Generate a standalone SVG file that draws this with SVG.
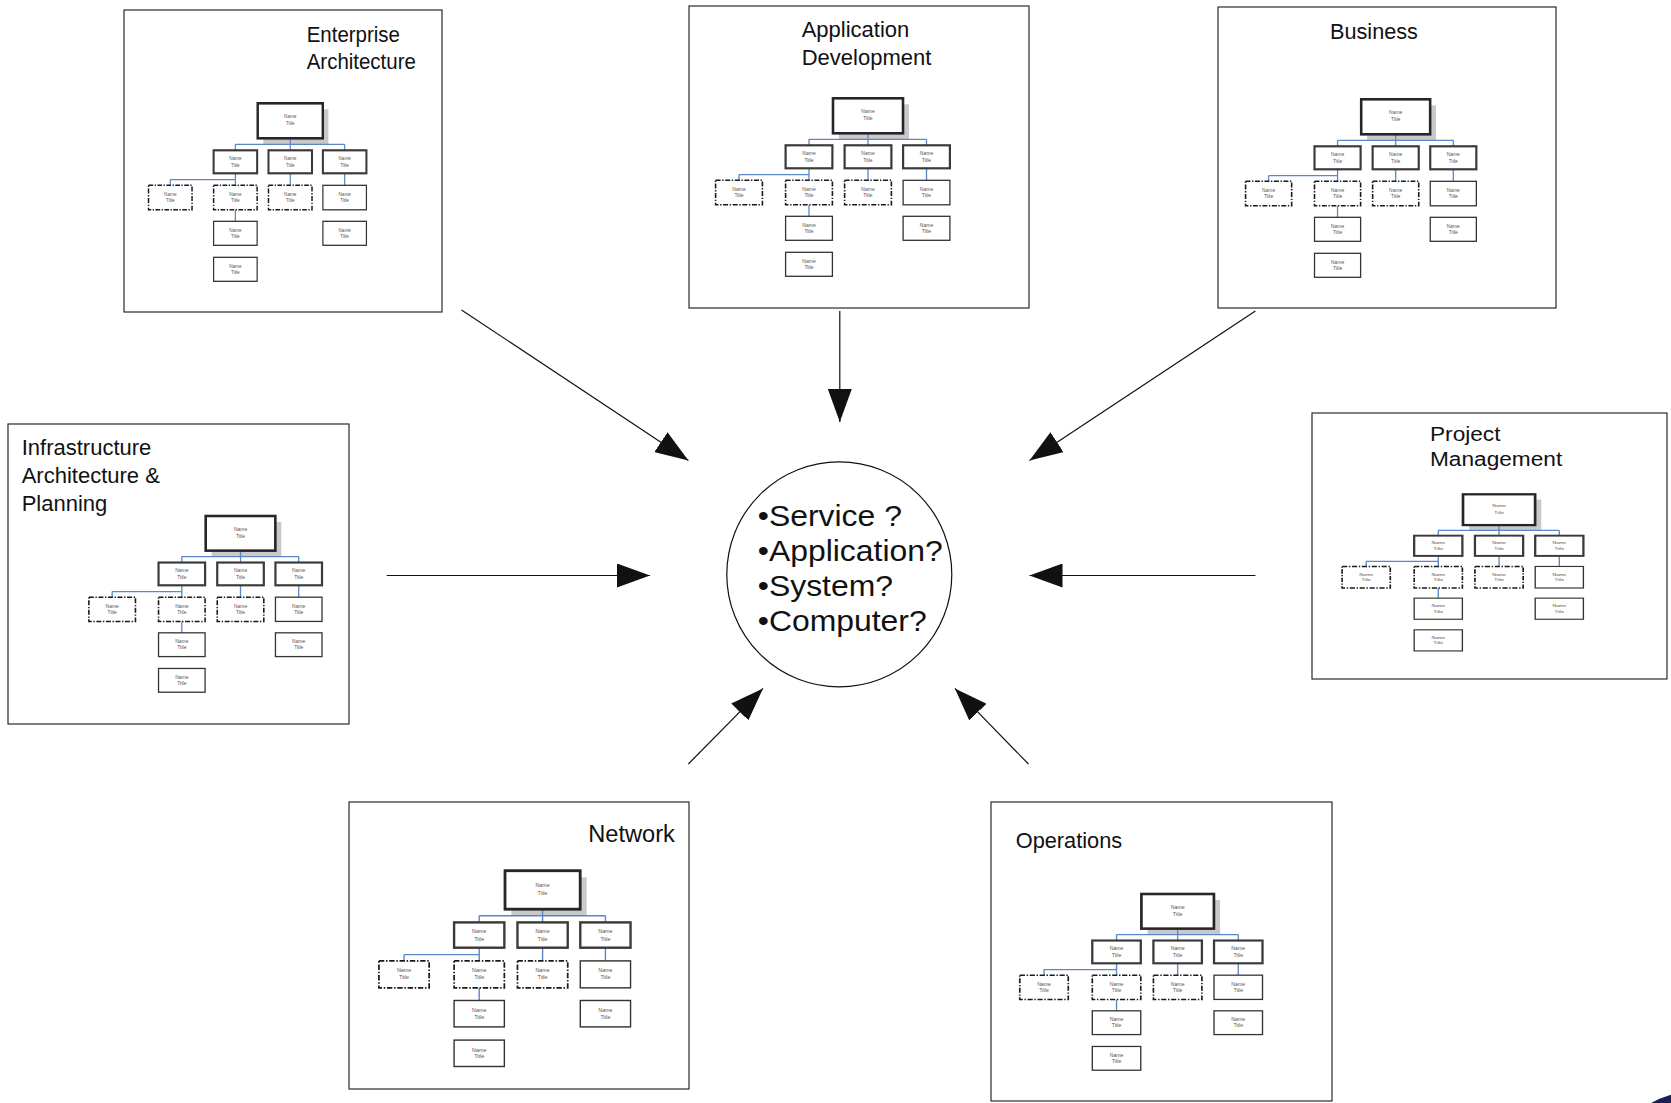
<svg xmlns="http://www.w3.org/2000/svg" xmlns:xlink="http://www.w3.org/1999/xlink" width="1671" height="1103" viewBox="0 0 1671 1103">
  <style>
    .frame { fill: #ffffff; stroke: #2a2a2a; stroke-width: 1.2; }
    .title { font-family: "Liberation Sans", Arial, sans-serif; font-size: 22px; fill: #111111; }
    .hub { font-family: "Liberation Sans", Arial, sans-serif; font-size: 29px; fill: #111111; }
    .topbox { fill: #ffffff; stroke: #262626; stroke-width: 2.6; }
    .shadow { fill: #c9c9c9; stroke: none; }
    .midbox { fill: #ffffff; stroke: #3a3a3a; stroke-width: 2.2; }
    .dashbox { fill: #ffffff; stroke: #1a1a1a; stroke-width: 1.6; stroke-dasharray: 5 1.6 1.4 1.6; }
    .leaf { fill: #ffffff; stroke: #333333; stroke-width: 1.3; }
    .link { fill: none; stroke: #5b86c8; stroke-width: 1.3; }
    .lbl { font-family: "Liberation Sans", Arial, sans-serif; font-size: 5px; fill: #555555; text-anchor: middle; }
    .arrow { fill: none; stroke: #111111; stroke-width: 1.2; marker-end: url(#head); }
  </style>
  <defs>
    <marker id="head" markerUnits="userSpaceOnUse" markerWidth="34" markerHeight="24" refX="33" refY="12" orient="auto">
      <path d="M0,0 L33,12 L0,24 Z" fill="#111111"/>
    </marker>
    <!-- small org chart; origin = top-left corner of the top box -->
    <g id="orgchart">
      <rect class="shadow" x="6" y="6" width="70" height="35"/>
      <!-- blue reporting lines -->
      <path class="link" d="M35,35 V41 M-24,41 H93.5 M-24,41 V47 M35,41 V47 M93.5,41 V47
                            M-24,70 V82 M-94,76.3 H-24 M-94,76.3 V82 M35,70 V82 M93.5,70 V82
                            M-24,106.5 V118"/>
      <rect class="topbox" x="0" y="0" width="70" height="35"/>
      <text class="lbl" x="35" y="15">Name</text><text class="lbl" x="35" y="22">Title</text>
      <!-- second level -->
      <rect class="midbox" x="-47.4" y="47" width="46.8" height="23"/>
      <rect class="midbox" x="11.6" y="47" width="46.8" height="23"/>
      <rect class="midbox" x="70.1" y="47" width="46.8" height="23"/>
      <text class="lbl" x="-24" y="57">Name</text><text class="lbl" x="-24" y="63.5">Title</text>
      <text class="lbl" x="35" y="57">Name</text><text class="lbl" x="35" y="63.5">Title</text>
      <text class="lbl" x="93.5" y="57">Name</text><text class="lbl" x="93.5" y="63.5">Title</text>
      <!-- third level -->
      <rect class="dashbox" x="-117.4" y="82" width="46.8" height="24.5"/>
      <rect class="dashbox" x="-47.4" y="82" width="46.8" height="24.5"/>
      <rect class="dashbox" x="11.6" y="82" width="46.8" height="24.5"/>
      <rect class="leaf" x="70.1" y="82" width="46.8" height="24.5"/>
      <text class="lbl" x="-94" y="92.5">Name</text><text class="lbl" x="-94" y="98.5">Title</text>
      <text class="lbl" x="-24" y="92.5">Name</text><text class="lbl" x="-24" y="98.5">Title</text>
      <text class="lbl" x="35" y="92.5">Name</text><text class="lbl" x="35" y="98.5">Title</text>
      <text class="lbl" x="93.5" y="92.5">Name</text><text class="lbl" x="93.5" y="98.5">Title</text>
      <!-- fourth level -->
      <rect class="leaf" x="-47.4" y="118" width="46.8" height="24"/>
      <rect class="leaf" x="70.1" y="118" width="46.8" height="24"/>
      <text class="lbl" x="-24" y="128.5">Name</text><text class="lbl" x="-24" y="134.5">Title</text>
      <text class="lbl" x="93.5" y="128.5">Name</text><text class="lbl" x="93.5" y="134.5">Title</text>
      <!-- fifth level -->
      <rect class="leaf" x="-47.4" y="154" width="46.8" height="24"/>
      <text class="lbl" x="-24" y="164.5">Name</text><text class="lbl" x="-24" y="170.5">Title</text>
    </g>
  </defs>

  <rect width="1671" height="1103" fill="#ffffff"/>

  <!-- corner badge -->
  <circle cx="1703" cy="1200" r="110" fill="#1c2050"/>

  <g id="connectors">
    <line class="arrow" x1="461.5" y1="310" x2="688.4" y2="460.4"/>
    <line class="arrow" x1="839.8" y1="311" x2="839.8" y2="422"/>
    <line class="arrow" x1="1255.4" y1="311" x2="1029.5" y2="460.4"/>
    <line class="arrow" x1="386.8" y1="575.5" x2="650" y2="575.5"/>
    <line class="arrow" x1="1255.4" y1="575.5" x2="1029.5" y2="575.5"/>
    <line class="arrow" x1="688.4" y1="764" x2="763" y2="688.4"/>
    <line class="arrow" x1="1028.4" y1="764" x2="954.9" y2="688.4"/>
  </g>

  <g id="hub">
    <circle cx="839.3" cy="574.4" r="112.5" fill="#ffffff" stroke="#111111" stroke-width="1.2"/>
    <text class="hub" transform="translate(757.8,0) scale(1.1,1)">
      <tspan x="0" y="526">•Service ?</tspan>
      <tspan x="0" y="561.5">•Application?</tspan>
      <tspan x="0" y="596.5">•System?</tspan>
      <tspan x="0" y="631.5">•Computer?</tspan>
    </text>
  </g>

  <g id="enterprise-architecture">
    <rect class="frame" x="124" y="10" width="318" height="302"/>
    <text class="title" transform="translate(306.7,41.7) scale(0.93,1)"><tspan x="0" y="0">Enterprise</tspan><tspan x="0" y="27.5">Architecture</tspan></text>
    <use xlink:href="#orgchart" transform="translate(257.7,103.3) scale(0.93,1)"/>
  </g>

  <g id="application-development">
    <rect class="frame" x="689" y="6" width="340" height="302"/>
    <text class="title" transform="translate(801.7,36.7)"><tspan x="0" y="0">Application</tspan><tspan x="0" y="28.3">Development</tspan></text>
    <use xlink:href="#orgchart" transform="translate(833,98.3)"/>
  </g>

  <g id="business">
    <rect class="frame" x="1218" y="7" width="338" height="301"/>
    <text class="title" transform="translate(1330,39) scale(0.985,1)">Business</text>
    <use xlink:href="#orgchart" transform="translate(1361.2,99.3) scale(0.985,1)"/>
  </g>

  <g id="infrastructure-architecture-planning">
    <rect class="frame" x="8" y="424" width="341" height="300"/>
    <text class="title" transform="translate(21.7,455)"><tspan x="0" y="0">Infrastructure</tspan><tspan x="0" y="28">Architecture &amp;</tspan><tspan x="0" y="55.7">Planning</tspan></text>
    <use xlink:href="#orgchart" transform="translate(205.7,516) scale(0.995,0.99)"/>
  </g>

  <g id="project-management">
    <rect class="frame" x="1312" y="413" width="355" height="266"/>
    <text class="title" transform="translate(1430,441) scale(1.03,0.88)"><tspan x="0" y="0">Project</tspan><tspan x="0" y="28.4">Management</tspan></text>
    <use xlink:href="#orgchart" transform="translate(1463,494.3) scale(1.03,0.88)"/>
  </g>

  <g id="network">
    <rect class="frame" x="349" y="802" width="340" height="287"/>
    <text class="title" transform="translate(588.3,841.7) scale(1.074,1.1)">Network</text>
    <use xlink:href="#orgchart" transform="translate(505,870.7) scale(1.074,1.1)"/>
  </g>

  <g id="operations">
    <rect class="frame" x="991" y="802" width="341" height="299"/>
    <text class="title" transform="translate(1015.7,848.3) scale(0.99,0.99)">Operations</text>
    <use xlink:href="#orgchart" transform="translate(1141.4,894) scale(1.036,0.99)"/>
  </g>
</svg>
